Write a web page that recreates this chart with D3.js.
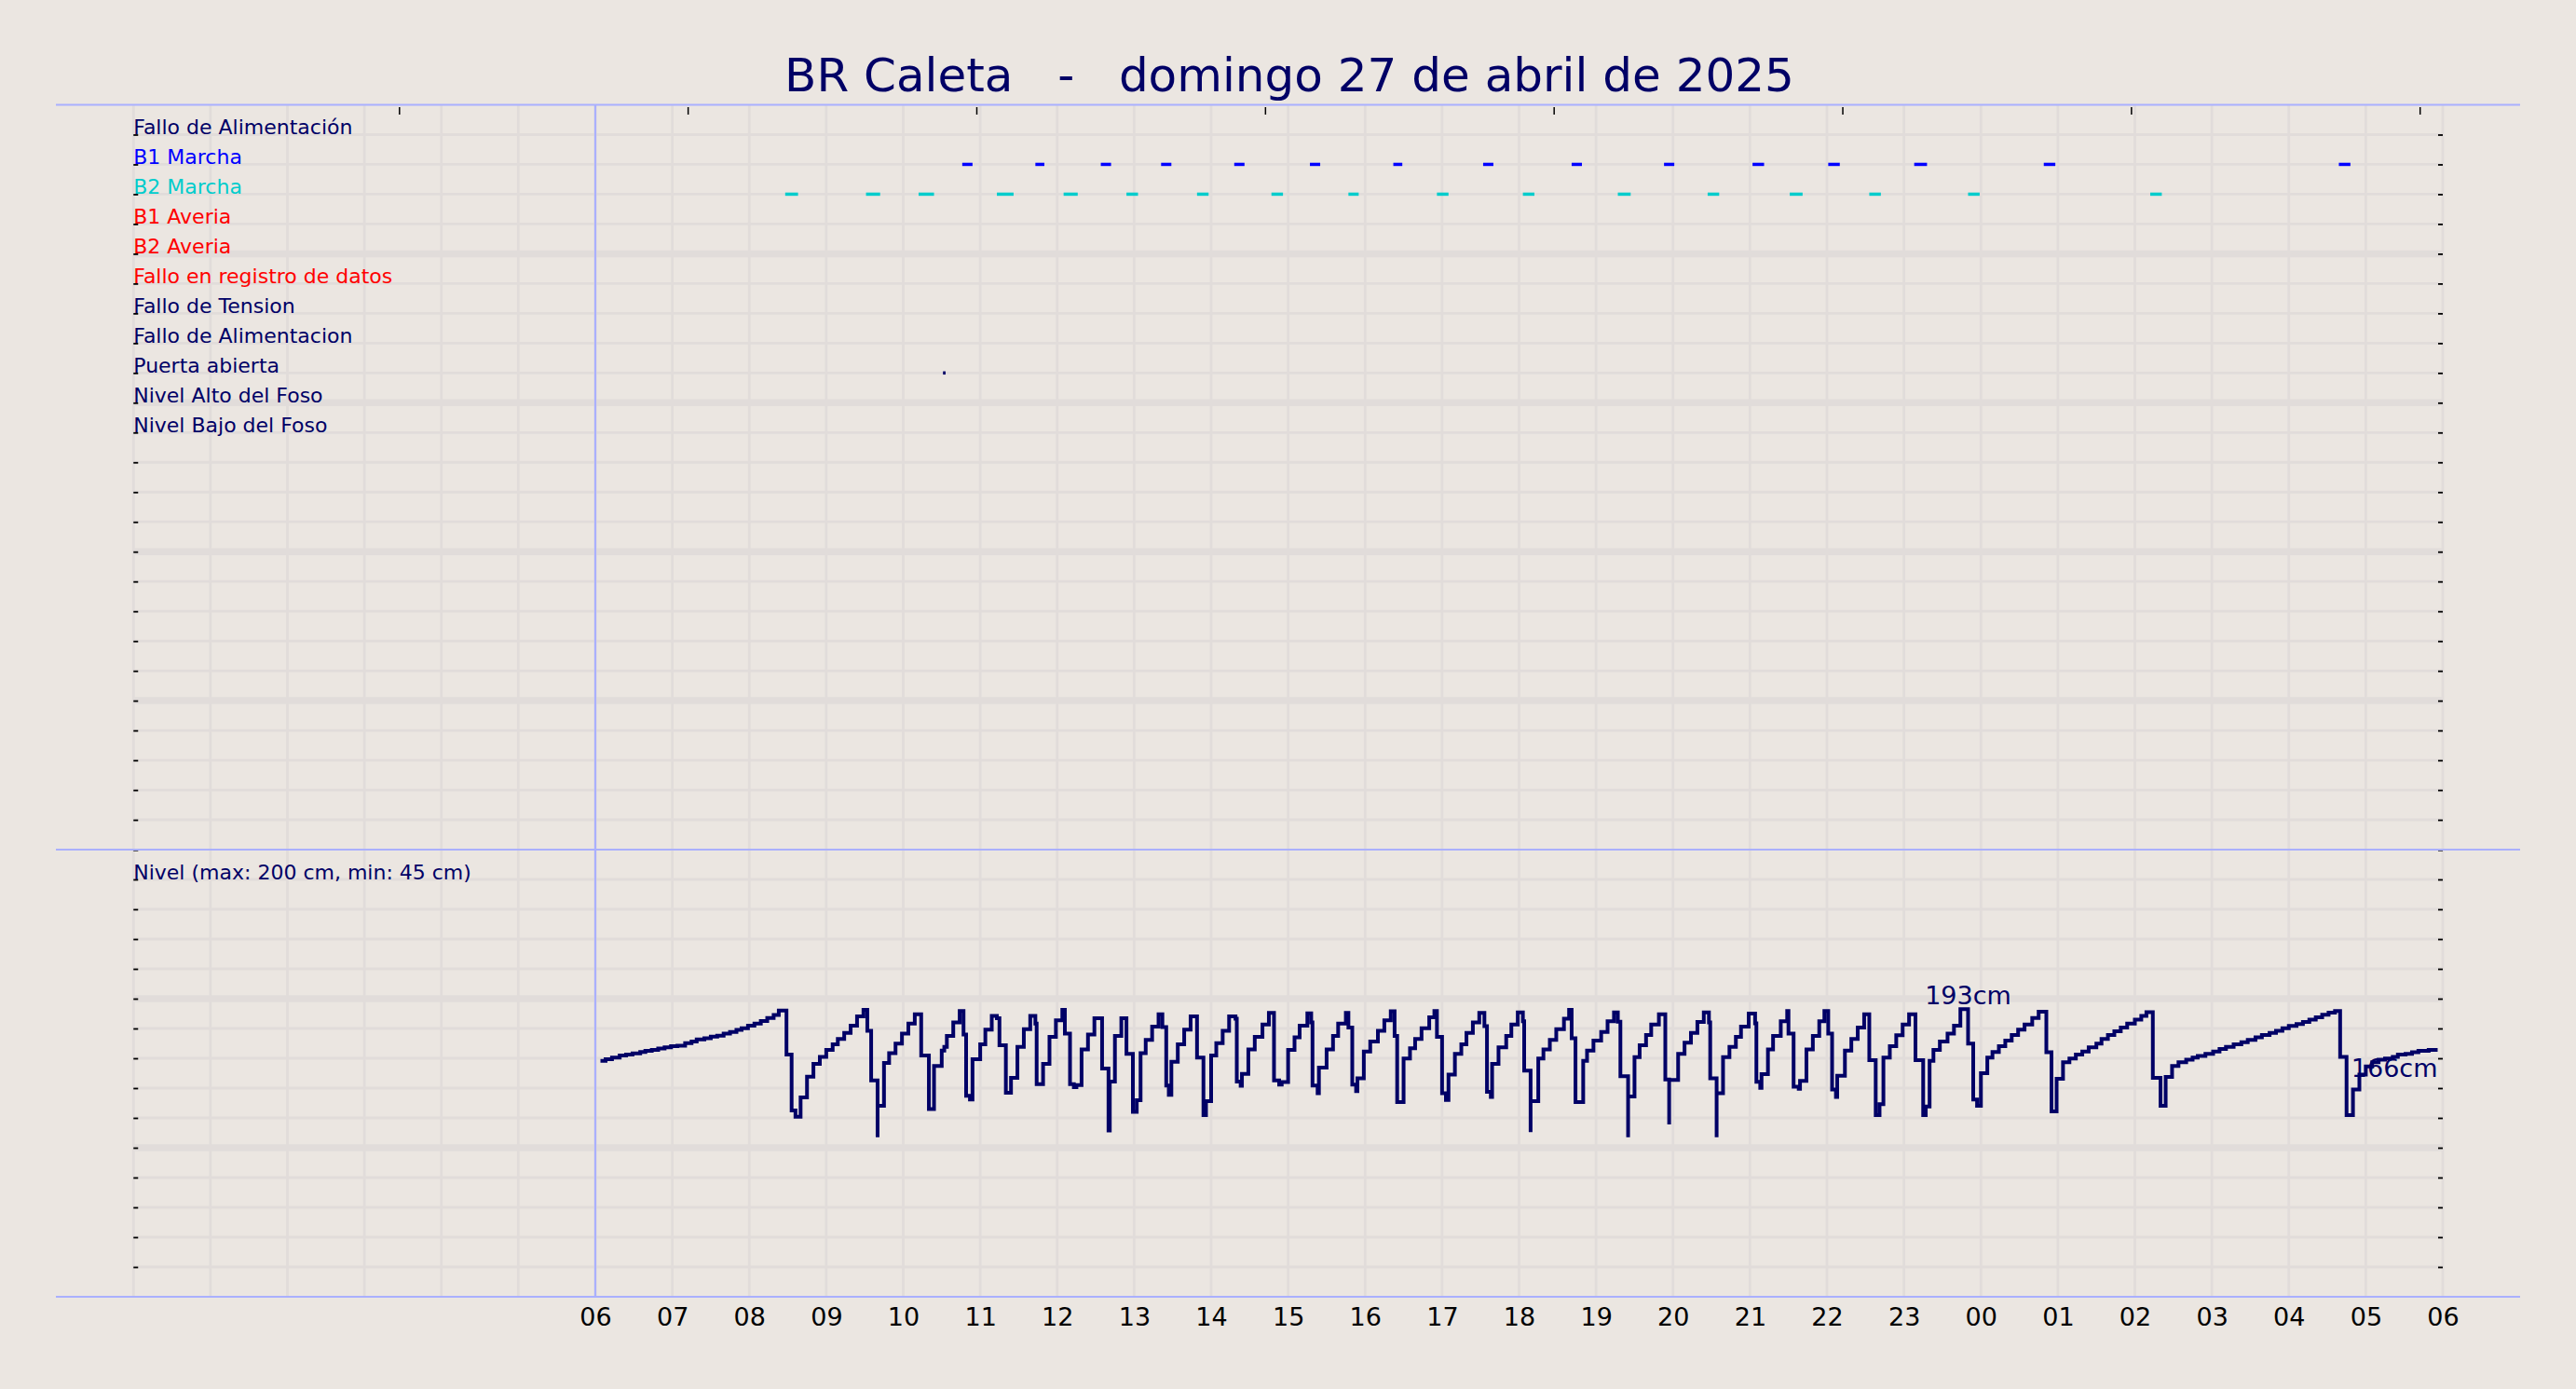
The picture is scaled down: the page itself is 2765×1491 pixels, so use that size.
<!DOCTYPE html>
<html>
<head>
<meta charset="utf-8">
<script src="https://cdn.jsdelivr.net/npm/d3@7"></script>
<style>
  html, body { margin: 0; padding: 0; background: #ebe6e1; }
  svg { display: block; font-family: "DejaVu Sans", sans-serif; }
</style>
</head>
<body>
<svg id="chart" width="2765" height="1491"></svg>
<script>
// ---- data ----
const chartTitle = "BR Caleta   -   domingo 27 de abril de 2025";
const rowLabels = ["Fallo de Alimentación", "B1 Marcha", "B2 Marcha", "B1 Averia", "B2 Averia",
  "Fallo en registro de datos", "Fallo de Tension", "Fallo de Alimentacion", "Puerta abierta",
  "Nivel Alto del Foso", "Nivel Bajo del Foso"];
const levelTitle = "Nivel (max: 200 cm, min: 45 cm)";

// pump running intervals (HH:MM, times before 06:00 belong to the next day)
const b1Start = ["10:46","11:43","12:34","13:21","14:18","15:17","16:22","17:32","18:41","19:53","21:02","22:01","23:08","00:49","04:39"];
const b1End   = ["10:54","11:50","12:42","13:29","14:26","15:25","16:29","17:40","18:49","20:01","21:11","22:10","23:18","00:58","04:48"];
const b2Start = ["08:28","09:31","10:12","11:13","12:05","12:54","13:49","14:47","15:47","16:56","18:03","19:17","20:27","21:31","22:33","23:50","02:12"];
const b2End   = ["08:38","09:42","10:24","11:26","12:16","13:03","13:58","14:56","15:55","17:05","18:12","19:27","20:36","21:41","22:42","23:59","02:21"];
const doorStart = ["10:31"];
const doorEnd   = ["10:33"];

// pit level (cm), value holds until the next time
const levelTimes = [
 "06:04","06:08","06:13","06:19","06:24","06:29","06:35","06:39","06:44","06:49","06:54","06:59",
 "07:04","07:10","07:15","07:19","07:25","07:30","07:35","07:40","07:45","07:50","07:54","07:59",
 "08:04","08:09","08:14","08:19","08:23","08:29","08:33","08:36","08:40","08:45","08:50","08:55",
 "09:00","09:05","09:09","09:14","09:19","09:24","09:29","09:32","09:35","09:40","09:40","09:45","09:49","09:54","09:59",
 "10:04","10:09","10:14","10:20","10:24","10:30","10:32","10:34","10:39","10:44","10:47","10:49","10:52","10:54",
 "11:00","11:04","11:09","11:13","11:15","11:20","11:24","11:29","11:34","11:39","11:43","11:44","11:49","11:54","11:59",
 "12:04","12:06","12:10","12:13","12:15","12:19","12:24","12:29","12:35","12:40","12:41","12:45","12:50","12:54","12:59",
 "13:02","13:05","13:09","13:14","13:19","13:22","13:25","13:27","13:29","13:34","13:39","13:44","13:49","13:54","13:56",
 "14:00","14:04","14:09","14:14","14:19","14:20","14:23","14:24","14:29","14:34","14:40","14:45","14:49","14:53","14:55",
 "15:00","15:05","15:09","15:15","15:18","15:19","15:23","15:24","15:30","15:35","15:39","15:45","15:47","15:50","15:53","15:54","15:59",
 "16:04","16:10","16:15","16:20","16:23","16:25","16:30","16:35","16:39","16:44","16:50","16:54","16:56",
 "17:00","17:03","17:05","17:10","17:15","17:19","17:24","17:29","17:33","17:35","17:38","17:39","17:44","17:50","17:54","17:59",
 "18:03","18:04","18:09","18:09","18:15","18:19","18:24","18:29","18:35","18:39","18:41","18:44","18:50","18:53","18:58",
 "19:04","19:09","19:14","19:17","19:19","19:25","19:25","19:30","19:34","19:39","19:43","19:49","19:54","19:57","19:57",
 "20:04","20:09","20:14","20:19","20:24","20:28","20:29","20:34","20:34","20:39","20:44","20:49","20:53","20:59",
 "21:04","21:05","21:08","21:09","21:14","21:18","21:24","21:29","21:30","21:34","21:38","21:39","21:44","21:49","21:54","21:58",
 "22:01","22:04","22:07","22:08","22:14","22:19","22:24","22:29","22:33","22:38","22:41","22:44","22:49","22:54","22:59",
 "23:04","23:09","23:15","23:17","23:20","23:23","23:28","23:34","23:39","23:44","23:50","23:54","23:57",
 "00:00","00:05","00:09","00:14","00:19","00:24","00:29","00:34","00:40","00:45","00:51","00:55","00:59",
 "01:04","01:09","01:14","01:19","01:24","01:30","01:34","01:39","01:44","01:49","01:54",
 "02:00","02:05","02:09","02:14","02:20","02:24","02:29","02:34","02:40","02:45","02:49","02:55",
 "03:01","03:06","03:11","03:17","03:23","03:28","03:34","03:39","03:45","03:50","03:55",
 "04:00","04:06","04:11","04:16","04:21","04:26","04:31","04:36","04:40","04:45","04:50","04:55",
 "05:00","05:05","05:10","05:15","05:21","05:25","05:31","05:36","05:41","05:49","05:56"];
const levelCm = [
 158.3,159.4,160.4,161.9,162.5,163.3,164.2,165,165.6,166.5,167.3,168.1,
 168.5,170.2,171.3,172.7,173.5,174.6,175.2,176.5,177.7,179,180.2,181.9,
 183.3,185,187.1,189,192,162.5,125,120.8,133.8,147.7,156.3,161,
 165.6,169.4,173,177,181.9,188.1,192.5,178.5,145.2,107,128.1,156.9,163.5,169.8,176.5,
 183.3,189.6,161.9,126,154.8,165.2,167.7,175,184,191.7,176,134.8,132.3,159.4,
 169.4,179.2,188.5,186.9,168.8,136.9,146.9,167.7,179.6,188.5,183.3,142.7,156.3,174.4,185.4,
 192.5,176.5,142.7,140.6,142,166,176,186.9,153.1,111.5,144.4,175,186.9,163,124,
 131.9,163.5,172.3,181.3,189.6,181,141.7,135.4,157.7,169.4,179.2,188.1,160.4,121.9,131.3,
 161.9,170.2,178.5,188.1,186.5,144.4,141.5,149.6,166,174.4,182.7,190.5,145.2,142.3,144,
 165.6,174,181.9,190.2,184,141.7,136.5,153.8,166,175,183.3,190.5,180.6,142.3,138,146.5,164.6,
 171.3,178.5,185.4,191.5,175,130.6,159.8,166.7,173,180.2,187.5,191.7,174.4,
 136.5,132,149,162.9,169.4,177.1,184,190.5,181.5,137.5,134,156.3,167.3,175,182.7,190.8,
 184.8,151.7,110.4,131.3,159.8,166,172.3,179.6,186.5,192.5,173.5,130.6,158.3,165.2,171.9,
 177.7,184.8,190.8,184.5,147.9,107,134.4,160.8,168.8,175.6,182.7,189.6,145.8,115.6,145.4,
 162.9,170.4,177.1,184.4,190.8,184,146.5,107,136.5,160.8,167.7,174.4,181.3,190,
 183.5,144.2,140.2,149.4,166,175,184.8,191.7,176.5,141,139.6,144.8,166,175,184.8,191.7,
 176.5,139,134,148.3,165.2,173,180.6,189.6,158.8,121.9,129.2,160.4,168.1,175.4,182.7,
 189.6,158.8,121.9,127.7,158.3,165.6,171.3,176.5,181.9,193,169.8,132.3,128.1,
 150,160.4,164.2,168.1,171.9,175.6,179.2,182.7,187.1,191.3,164,124.4,146.3,
 157.3,159.8,162.5,164.6,167.3,169.8,172.9,175.6,178.1,180.6,183.3,
 186,188.5,191,146.9,128.1,147.5,154.8,157.3,159,160.4,161.5,162.9,
 164.6,166.3,167.7,169.4,170.8,172.3,174,175.6,177.1,178.5,180.2,
 181.7,182.9,184.4,186,187.5,189.2,190.6,191.7,161,121.9,139,149,
 154.6,157.3,159,159.8,161,162.5,163,164,165,165.6,165.6];

// hour positions of the small ticks along the top edge
const topTickHours = [3.45, 7.2, 10.95, 14.7, 18.45, 22.2, 25.95, 29.7];

// ---- layout / style ----
const navy = "#000066", gridCol = "#e1dcda", frameCol = "#aab0ff";
const rowColors = ["#000066","#0000ff","#00cccc","#ff0000","#ff0000","#ff0000","#000066","#000066","#000066","#000066","#000066"];
const L = 143.25, R = 2622, T = 112.5, M = 912, B = 1392;

// hour of day, hours before 06 are next day
const toHour = s => { const [h, m] = s.split(":").map(Number); return (h < 6 ? h + 24 : h) + m / 60; };

const svg = d3.select("#chart");
svg.append("rect").attr("width", 2765).attr("height", 1491).attr("fill", "#ebe6e1");

const x = d3.scaleLinear().domain([0, 30]).range([L, R]);
const yTop = d3.scaleLinear().domain([0, 25]).range([M, T]);
const yBot = d3.scaleLinear().domain([0, 300]).range([B, M]);

// grid
const grid = svg.append("g");
grid.selectAll(".vg").data(d3.range(0, 31)).join("line")
  .attr("x1", d => x(d)).attr("x2", d => x(d)).attr("y1", T).attr("y2", B)
  .attr("stroke", gridCol).attr("stroke-width", 2.8);
grid.selectAll(".ht").data(d3.range(1, 25)).join("line")
  .attr("x1", L).attr("x2", R).attr("y1", d => yTop(d)).attr("y2", d => yTop(d))
  .attr("stroke", gridCol).attr("stroke-width", d => d % 5 === 0 ? 7.5 : 2.8);
grid.selectAll(".hb").data(d3.range(20, 300, 20)).join("line")
  .attr("x1", L).attr("x2", R).attr("y1", d => yBot(d)).attr("y2", d => yBot(d))
  .attr("stroke", gridCol).attr("stroke-width", d => d % 100 === 0 ? 7.5 : 2.8);

// row ticks on both sides
function sideTicks(axis, tx, values) {
  const g = svg.append("g").attr("transform", `translate(${tx},0)`)
    .call(axis.tickValues(values).tickSize(-5).tickFormat(""));
  g.select(".domain").remove();
  g.selectAll(".tick line").attr("stroke", "#000").attr("stroke-width", 1.8);
}
sideTicks(d3.axisLeft(yTop), L, d3.range(0, 25));
sideTicks(d3.axisRight(yTop), R, d3.range(0, 25));
sideTicks(d3.axisLeft(yBot), L, d3.range(20, 320, 20));
sideTicks(d3.axisRight(yBot), R, d3.range(20, 320, 20));

// small ticks along the top
const gt = svg.append("g").attr("transform", `translate(0,${T + 10.5})`)
  .call(d3.axisTop(x).tickValues(topTickHours).tickSize(8).tickFormat(""));
gt.select(".domain").remove();
gt.selectAll(".tick line").attr("stroke", "#000").attr("stroke-width", 1.5);

// frame lines
const frame = svg.append("g").attr("stroke", frameCol).attr("stroke-width", 2.2);
[T, M, B].forEach(yy => frame.append("line").attr("x1", 60).attr("x2", 2705).attr("y1", yy).attr("y2", yy));
frame.append("line").attr("x1", x(6)).attr("x2", x(6)).attr("y1", T).attr("y2", B);

// hour labels
const gb = svg.append("g").attr("transform", `translate(0,${B})`)
  .call(d3.axisBottom(x).tickValues(d3.range(6, 31)).tickSize(0).tickPadding(12)
    .tickFormat(h => String(h % 24).padStart(2, "0")));
gb.select(".domain").remove();
gb.selectAll("text").attr("font-size", 27).attr("font-family", "DejaVu Sans").attr("fill", "#000");

// title
svg.append("text").attr("x", 1384).attr("y", 98).attr("text-anchor", "middle")
  .attr("font-size", 50).attr("fill", navy).style("white-space", "pre").text(chartTitle);

// row labels
svg.append("g").selectAll("text").data(rowLabels).join("text")
  .attr("x", L).attr("y", (d, i) => yTop(24 - i))
  .attr("font-size", 22).attr("fill", (d, i) => rowColors[i]).text(d => d);
svg.append("text").attr("x", L).attr("y", yBot(280)).attr("font-size", 22).attr("fill", navy).text(levelTitle);

// event dashes
function events(starts, ends, row, color) {
  svg.append("g").selectAll("line").data(starts).join("line")
    .attr("x1", d => x(toHour(d))).attr("x2", (d, i) => x(toHour(ends[i])))
    .attr("y1", yTop(24 - row)).attr("y2", yTop(24 - row))
    .attr("stroke", color).attr("stroke-width", 3.5);
}
events(b1Start, b1End, 1, "#0000ff");
events(b2Start, b2End, 2, "#00cccc");
events(doorStart, doorEnd, 8, navy);

// level line
const pts = levelTimes.map((t, i) => [toHour(t), levelCm[i]]);
svg.append("path").datum(pts)
  .attr("d", d3.line().x(d => x(d[0])).y(d => yBot(d[1])).curve(d3.curveStepAfter))
  .attr("fill", "none").attr("stroke", navy).attr("stroke-width", 4).attr("stroke-linejoin", "miter");

// max and last value labels
const iMax = d3.maxIndex(pts, d => d[1]);
const xMax = x(pts[iMax + 1][0]);
svg.append("text").attr("x", xMax).attr("y", yBot(pts[iMax][1]) - 5).attr("text-anchor", "middle")
  .attr("font-size", 27).attr("fill", navy).text(Math.round(pts[iMax][1]) + "cm");
const last = pts[pts.length - 1];
svg.append("text").attr("x", x(last[0])).attr("y", yBot(last[1]) + 29).attr("text-anchor", "end")
  .attr("font-size", 27).attr("fill", navy).text(Math.round(last[1]) + "cm");
</script>
</body>
</html>
